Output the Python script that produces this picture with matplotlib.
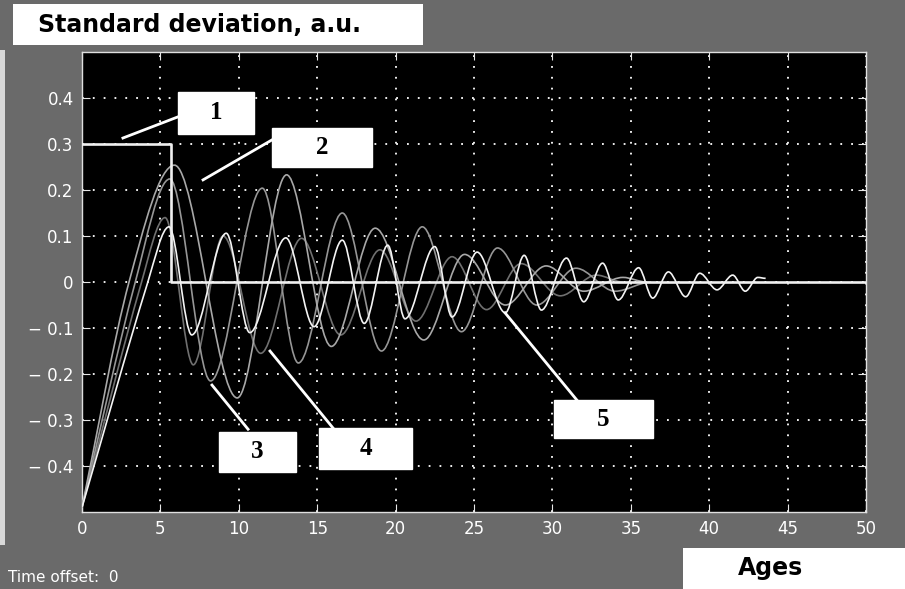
import matplotlib
matplotlib.use("Agg")
import matplotlib.pyplot as plt
from matplotlib.path import Path
from matplotlib.patches import PathPatch, Rectangle

# 1. Data: turning points of each response curve (age, std deviation)
step_x = [0, 5.7, 5.7, 50]
step_y = [0.3, 0.3, 0, 0]

c2_x = [0, 3.0, 5.9, 9.9, 13.05, 15.9, 18.7, 21.8, 24.4, 27.0, 29.6, 32.0, 34.5, 36.0]
c2_y = [-0.49, 0.0, 0.254, -0.252, 0.233, -0.14, 0.117, -0.126, 0.06, -0.05, 0.035, -0.02, 0.01, 0.0]

c3_x = [0, 3.4, 5.6, 8.2, 11.5, 13.8, 16.6, 19.1, 21.7, 24.2, 26.5, 29.0, 31.5, 34.0, 36.3]
c3_y = [-0.49, 0.0, 0.224, -0.215, 0.204, -0.176, 0.15, -0.15, 0.12, -0.108, 0.074, -0.05, 0.03, -0.02, 0.0]

c4_x = [0, 3.8, 5.3, 7.1, 9.0, 11.4, 14.0, 16.5, 19.0, 21.3, 23.6, 25.8, 28.0, 30.5, 32.8, 34.5]
c4_y = [-0.49, 0.0, 0.14, -0.18, 0.10, -0.155, 0.095, -0.115, 0.07, -0.085, 0.055, -0.06, 0.04, -0.03, 0.015, 0.0]

c5_x = [0, 4.2, 5.55, 7.0, 9.2, 10.7, 13.0, 14.8, 16.6, 18.0, 19.5, 20.6, 22.5, 23.6,
        25.2, 27.0, 28.2, 29.3, 30.9, 32.0, 33.2, 34.2, 35.5, 36.4, 37.4, 38.5, 39.4,
        40.5, 41.5, 42.3, 43.1, 43.6]
c5_y = [-0.49, 0.0, 0.12, -0.115, 0.106, -0.11, 0.096, -0.097, 0.091, -0.09, 0.08, -0.08, 0.077, -0.076,
        0.065, -0.067, 0.058, -0.061, 0.052, -0.043, 0.041, -0.039, 0.031, -0.035, 0.022, -0.032, 0.019,
        -0.017, 0.015, -0.02, 0.01, 0.008]

x_ticks = [0, 5, 10, 15, 20, 25, 30, 35, 40, 45, 50]
y_ticks = [-0.4, -0.3, -0.2, -0.1, 0, 0.1, 0.2, 0.3, 0.4]
y_labels = ["\u2212 0.4", "\u2212 0.3", "\u2212 0.2", "\u2212 0.1", "0", "0.1", "0.2", "0.3", "0.4"]

# label number, target point on curve, box (x0, y0, x1, y1), leader start
labels = ["1", "2", "3", "4", "5"]
label_targets = [(2.61, 0.313), (7.72, 0.222), (8.29, -0.224), (11.99, -0.15), (26.98, -0.067)]
label_boxes = [(6.12, 0.322, 10.97, 0.413), (12.12, 0.25, 18.49, 0.335), (8.74, -0.413, 13.65, -0.326),
               (15.11, -0.407, 21.05, -0.317), (30.1, -0.339, 36.4, -0.257)]
label_starts = [(6.12, 0.359), (12.12, 0.309), (10.59, -0.320), (16.0, -0.317), (31.57, -0.257)]


def smooth_curve(xs, ys):
    # cubic segments through the points, flat at peaks and troughs
    n = len(xs)
    m = []
    for i in range(n):
        if i == 0:
            m.append((ys[1] - ys[0]) / (xs[1] - xs[0]))
        elif i == n - 1:
            m.append(0.0)
        elif (ys[i] - ys[i - 1]) * (ys[i + 1] - ys[i]) <= 0:
            m.append(0.0)
        else:
            m.append((ys[i + 1] - ys[i - 1]) / (xs[i + 1] - xs[i - 1]))
    verts = [(xs[0], ys[0])]
    codes = [Path.MOVETO]
    for i in range(n - 1):
        h = (xs[i + 1] - xs[i]) / 3.0
        verts += [(xs[i] + h, ys[i] + m[i] * h),
                  (xs[i + 1] - h, ys[i + 1] - m[i + 1] * h),
                  (xs[i + 1], ys[i + 1])]
        codes += [Path.CURVE4] * 3
    return Path(verts, codes)


# 2. Figure in scope style
bg = "#6a6a6a"
fig = plt.figure(figsize=(9.05, 5.89), dpi=100, facecolor=bg)
ax = fig.add_axes([0.0906, 0.1307, 0.8663, 0.781])
ax.set_facecolor("black")

ax.set_xlim(0, 50)
ax.set_ylim(-0.5, 0.5)
ax.set_xticks(x_ticks)
ax.set_yticks(y_ticks)
ax.set_yticklabels(y_labels)
ax.tick_params(direction="in", length=6, colors="#e6e6e6", labelcolor="white",
               labelsize=12, top=True, right=True, pad=6)
for s in ax.spines.values():
    s.set_color("#e0e0e0")
    s.set_linewidth(1.0)
ax.grid(True, color="white", linestyle=(0, (1, 5)), linewidth=1.3)
ax.set_axisbelow(True)

# 3. Curves
for xs, ys, col in [(c4_x, c4_y, "#707070"), (c3_x, c3_y, "#969696"),
                    (c2_x, c2_y, "#a8a8a8"), (c5_x, c5_y, "#f4f4f4")]:
    ax.add_patch(PathPatch(smooth_curve(xs, ys), fill=False, edgecolor=col, linewidth=1.2, zorder=3))

ax.plot(step_x, step_y, color="#f0f0f0", linewidth=1.9, zorder=4)

# 4. Numbered callouts
for txt, tgt, box, st in zip(labels, label_targets, label_boxes, label_starts):
    ax.plot([st[0], tgt[0]], [st[1], tgt[1]], color="white", linewidth=2, zorder=5)
    ax.add_patch(Rectangle((box[0], box[1]), box[2] - box[0], box[3] - box[1],
                           facecolor="white", edgecolor="white", zorder=6))
    ax.text((box[0] + box[2]) / 2, (box[1] + box[3]) / 2, txt, ha="center", va="center",
            fontsize=18, fontweight="bold", family="Liberation Serif", color="black", zorder=7)

# 5. Header, axis name and status text
fig.patches.append(Rectangle((0, 0.075), 0.0055, 0.84, transform=fig.transFigure,
                             facecolor="#d8d8d8", edgecolor="none"))
fig.patches.append(Rectangle((0.0144, 0.9236), 0.453, 0.0696, transform=fig.transFigure,
                             facecolor="white", edgecolor="none"))
fig.text(0.042, 0.958, "Standard deviation, a.u.", fontsize=17, fontweight="bold",
         color="black", ha="left", va="center")
fig.patches.append(Rectangle((0.7547, 0.0), 0.2453, 0.0696, transform=fig.transFigure,
                             facecolor="white", edgecolor="none"))
fig.text(0.851, 0.035, "Ages", fontsize=17, fontweight="bold", color="black",
         ha="center", va="center")
fig.text(0.009, 0.02, "Time offset:  0", fontsize=11, color="white", ha="left", va="center")

plt.savefig("out.png", dpi=100, facecolor=bg)
